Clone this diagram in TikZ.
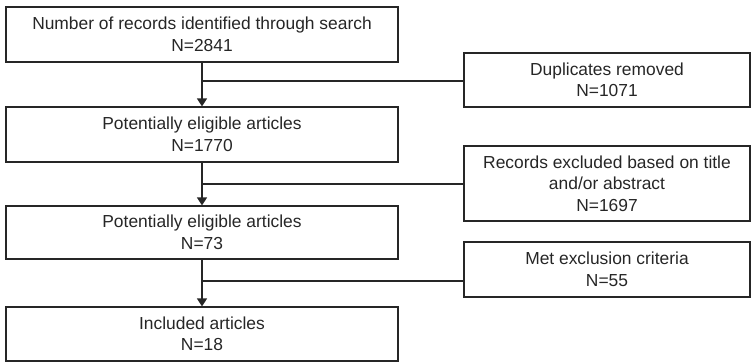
\documentclass[tikz,border=0pt]{standalone}
\usepackage{fontspec}
\setmainfont{Liberation Sans}
\usetikzlibrary{arrows.meta}
\begin{document}
\begin{tikzpicture}[x=1pt,y=-1pt,
  every node/.style={font=\fontsize{17.4}{21.5}\selectfont, text=black!85},
  leftbox/.style={draw=black!85, line width=1.2pt, minimum width=392pt, inner sep=0pt, align=center},
  rightbox/.style={draw=black!85, line width=1.2pt, minimum width=286pt, inner sep=0pt, align=center},
  flow/.style={draw=black!85, line width=1.4pt},
  arr/.style={flow, -{Triangle[width=10pt,length=8pt]}}]
\useasboundingbox (0,0) rectangle (751,362);
\node[leftbox, minimum height=55pt] (b1) at (202,34.5) {Number of records identified  through search\\N=2841};
\node[leftbox, minimum height=55pt] (b2) at (202,134.5) {Potentially eligible articles\\N=1770};
\node[leftbox, minimum height=53pt] (b3) at (202,232.5) {Potentially eligible articles\\N=73};
\node[leftbox, minimum height=54pt] (b4) at (202,334) {Included articles\\N=18};
\node[rightbox, minimum height=54pt] (r1) at (607,80) {Duplicates removed\\N=1071};
\node[rightbox, minimum height=75pt] (r2) at (607,183.5) {Records excluded based on title\\and/or abstract\\N=1697};
\node[rightbox, minimum height=55pt] (r3) at (607,269.5) {Met exclusion criteria\\N=55};
\coordinate (j1) at (202,81);
\coordinate (j2) at (202,184);
\coordinate (j3) at (202,281);
\draw[arr] (b1.south) -- (b2.north);
\draw[arr] (b2.south) -- (b3.north);
\draw[arr] (b3.south) -- (b4.north);
\draw[flow] (j1) -- (j1 -| r1.west);
\draw[flow] (j2) -- (j2 -| r2.west);
\draw[flow] (j3) -- (j3 -| r3.west);
\end{tikzpicture}
\end{document}
